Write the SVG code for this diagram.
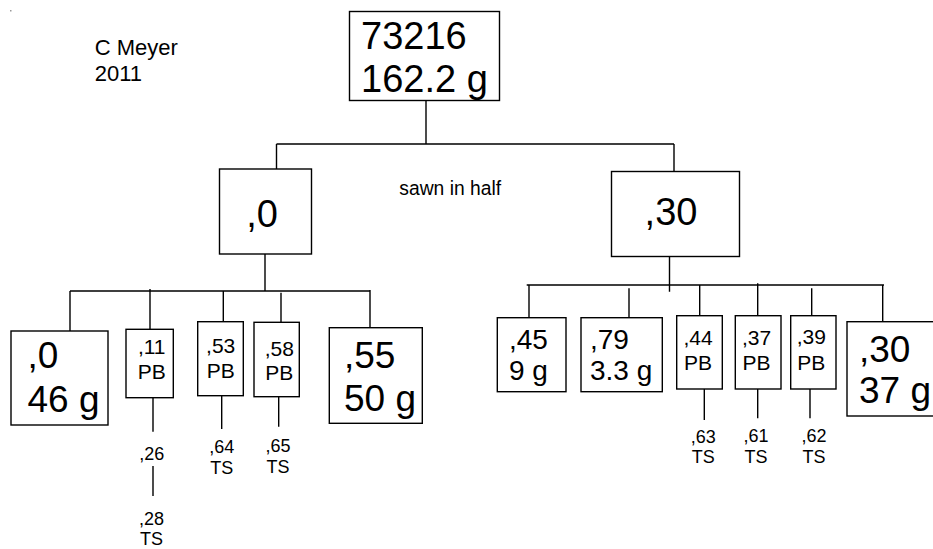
<svg xmlns="http://www.w3.org/2000/svg" width="933" height="549" viewBox="0 0 933 549">
<style>
  .box { fill: #fff; stroke: #000; stroke-width: 1.4; }
  .ln { fill: none; stroke: #000; stroke-width: 1.4; }
  text { font-family: "Liberation Sans", Arial, sans-serif; fill: #000; }
  .xl { font-size: 38px; }
  .lg { font-size: 37px; }
  .md { font-size: 28px; }
  .sm { font-size: 21px; text-anchor: middle; }
  .xs { font-size: 18px; text-anchor: middle; }
  .c { text-anchor: middle; }
</style>
<rect width="933" height="549" fill="#fff"/>
<rect x="10" y="10" width="1.5" height="1.5" fill="#999"/>
<text x="94.7" y="55" font-size="22">C Meyer</text>
<text x="94.7" y="81" font-size="22">2011</text>
<text x="399.3" y="195" font-size="19.3">sawn in half</text>

<g id="connectors">
  <path class="ln" d="M426,100 V144 M276.5,144 H674 M276.5,144 V169 M674,144 V171.7"/>
  <path class="ln" d="M265,254 V291 M70,291 H370 M70,291 V331 M150,289 V329.3 M223.3,291 V321.7 M281,292.7 V322.3 M370,290 V327.7"/>
  <path class="ln" d="M153,397.7 V431.7 M153,466 V496 M221.7,395.7 V429 M278.7,396.7 V426.7"/>
  <path class="ln" d="M669.5,256.7 V291.7 M526.7,285 H884 M529,285 V317.7 M629,288.3 V317.7 M699.7,285 V315.7 M757.7,283.3 V315.7 M811.7,288.3 V315.7 M882.7,285 V321.7"/>
  <path class="ln" d="M704.3,389 V420 M757.7,389 V418.3 M810,389 V418.3"/>
</g>

<g id="n73216">
  <rect class="box" x="349.5" y="11.5" width="150" height="89"/>
  <text class="xl" x="361" y="49.3">73216</text>
  <text class="xl" x="361" y="91.7">162.2 g</text>
</g>
<g id="n0">
  <rect class="box" x="219.5" y="169" width="92" height="85"/>
  <text class="xl c" x="262" y="227">,0</text>
</g>
<g id="n30">
  <rect class="box" x="611.5" y="171.5" width="128" height="85"/>
  <text class="xl c" x="671" y="225">,30</text>
</g>

<g id="l0">
  <rect class="box" x="11" y="331" width="97" height="94"/>
  <text class="lg" x="27.5" y="368.3">,0</text>
  <text class="lg" x="27.5" y="411.7">46 g</text>
</g>
<g id="l11">
  <rect class="box" x="126" y="329.3" width="47.3" height="68.4"/>
  <text class="sm" x="151.7" y="354">,11</text>
  <text class="sm" x="151.7" y="379">PB</text>
</g>
<g id="l26">
  <text class="xs" x="151.7" y="460">,26</text>
</g>
<g id="l28">
  <text class="xs" x="151.5" y="525">,28</text>
  <text class="xs" x="151.5" y="545">TS</text>
</g>
<g id="l53">
  <rect class="box" x="197.7" y="321.7" width="45.6" height="74"/>
  <text class="sm" x="220.7" y="352.7">,53</text>
  <text class="sm" x="220.7" y="377.7">PB</text>
</g>
<g id="l64">
  <text class="xs" x="221.8" y="453">,64</text>
  <text class="xs" x="221.8" y="474">TS</text>
</g>
<g id="l58">
  <rect class="box" x="254" y="322.3" width="45.3" height="74.4"/>
  <text class="sm" x="279.3" y="356">,58</text>
  <text class="sm" x="279.3" y="380">PB</text>
</g>
<g id="l65">
  <text class="xs" x="278" y="451.7">,65</text>
  <text class="xs" x="278" y="472.7">TS</text>
</g>
<g id="l55">
  <rect class="box" x="329.3" y="327.7" width="93" height="95.6"/>
  <text class="lg" x="344" y="368.3">,55</text>
  <text class="lg" x="344" y="410.7">50 g</text>
</g>

<g id="r45">
  <rect class="box" x="497.3" y="317.7" width="68.7" height="74"/>
  <text class="md" x="509" y="349">,45</text>
  <text class="md" x="509" y="380">9 g</text>
</g>
<g id="r79">
  <rect class="box" x="581" y="317.7" width="81.3" height="74"/>
  <text class="md" x="590" y="349">,79</text>
  <text class="md" x="590" y="380">3.3 g</text>
</g>
<g id="r44">
  <rect class="box" x="676.7" y="315.7" width="45.6" height="73.3"/>
  <text class="sm" x="698" y="345">,44</text>
  <text class="sm" x="698" y="370">PB</text>
</g>
<g id="r63">
  <text class="xs" x="703.3" y="442.7">,63</text>
  <text class="xs" x="703.3" y="462.7">TS</text>
</g>
<g id="r37">
  <rect class="box" x="735.3" y="315.7" width="45.7" height="73.3"/>
  <text class="sm" x="756.5" y="345">,37</text>
  <text class="sm" x="756.5" y="370">PB</text>
</g>
<g id="r61">
  <text class="xs" x="756" y="441.7">,61</text>
  <text class="xs" x="756" y="462.7">TS</text>
</g>
<g id="r39">
  <rect class="box" x="790.7" y="315.7" width="45.3" height="73.3"/>
  <text class="sm" x="811.3" y="344">,39</text>
  <text class="sm" x="811.3" y="370">PB</text>
</g>
<g id="r62">
  <text class="xs" x="814" y="441.7">,62</text>
  <text class="xs" x="814" y="462.7">TS</text>
</g>
<g id="r30">
  <rect class="box" x="847" y="321.7" width="100" height="94.3"/>
  <text class="lg" x="859" y="361.7">,30</text>
  <text class="lg" x="859" y="403.3">37 g</text>
</g>
</svg>
